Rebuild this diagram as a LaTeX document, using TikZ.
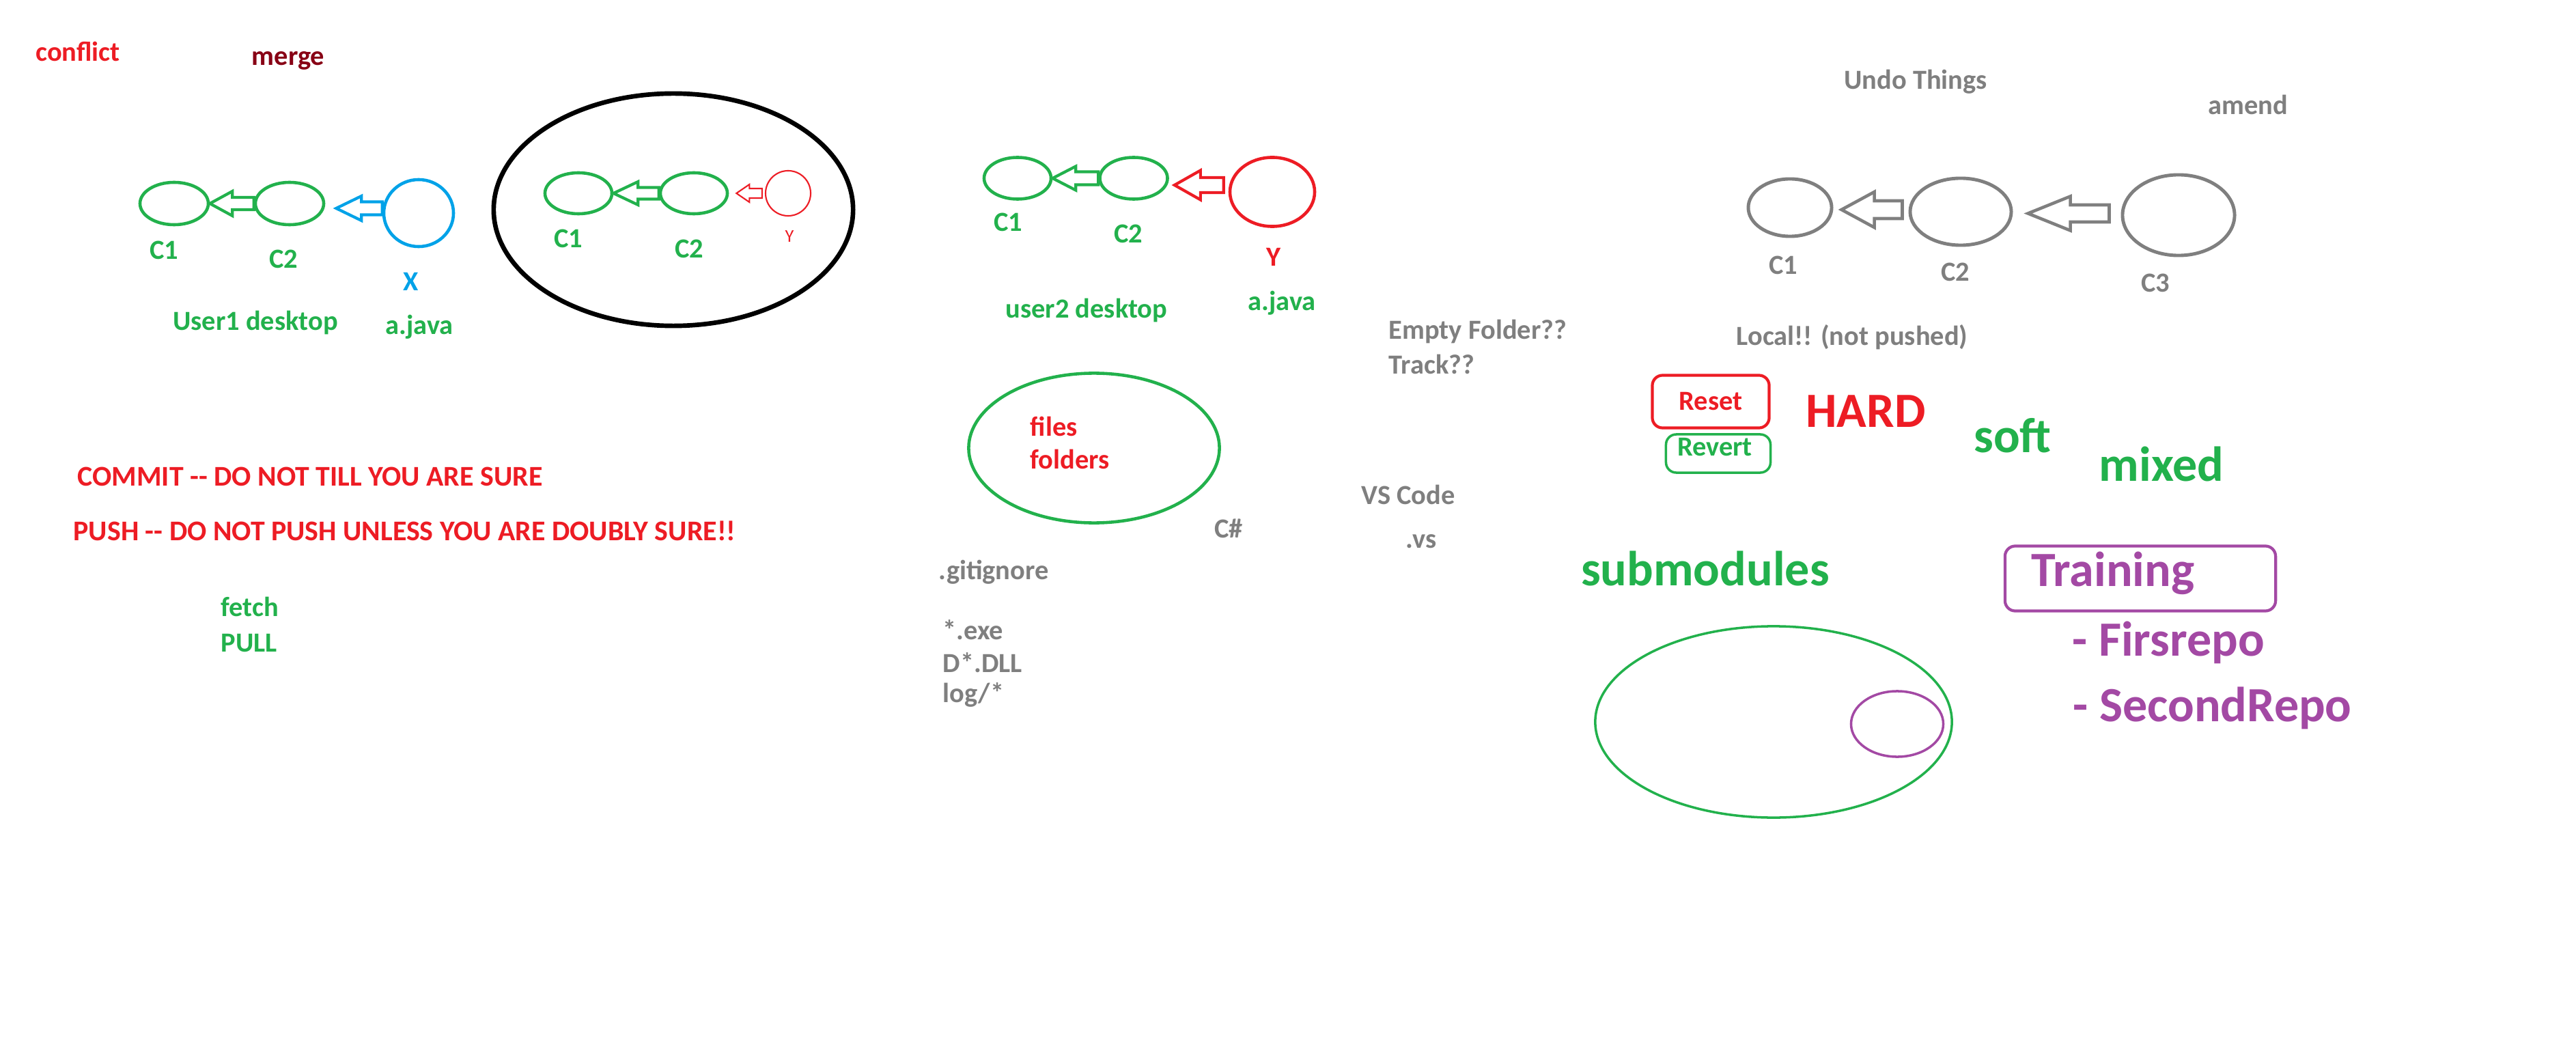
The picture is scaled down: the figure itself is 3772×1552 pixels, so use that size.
\documentclass[tikz,border=0pt]{standalone}
\usepackage{fontspec}
\setmainfont{Carlito}
\usetikzlibrary{calc,positioning,shapes.geometric}

\definecolor{pgreen}{HTML}{22B14C}
\definecolor{pred}{HTML}{ED1C24}
\definecolor{pblue}{HTML}{00A2E8}
\definecolor{pgray}{HTML}{7F7F7F}
\definecolor{ppurple}{HTML}{A349A4}
\definecolor{pmaroon}{HTML}{880015}

\begin{document}
\begin{tikzpicture}[
      x=0.01cm, y=-0.01cm,
      every node/.style = {inner sep=0pt, font=\bfseries\fontsize{11.5}{13}\selectfont},
      commit/.style 2 args = {ellipse, line width=1.3pt, minimum width=#1, minimum height=#2},
      rbox/.style = {draw, rounded corners=0.15cm, line width=1.2pt},
      greentext/.style = {text=pgreen},
      redtext/.style = {text=pred},
      graytext/.style = {text=pgray},
      purpletext/.style = {text=ppurple},
      capstext/.style = {font=\bfseries\fontsize{11.9}{14}\selectfont},
      bigtext/.style = {font=\bfseries\fontsize{20.5}{24}\selectfont},
      hollow/.style n args = {3}{line width=1.2pt, to path={
          let \p1=(\tikztostart), \p2=(\tikztotarget), \n1={(\y1+\y2)/2} in
          (\x1,\n1+#1) -- (\x2+#3,\n1+#1) -- (\x2+#3,\n1+#2) -- (\x2,\n1)
          -- (\x2+#3,\n1-#2) -- (\x2+#3,\n1-#1) -- (\x1,\n1-#1) -- cycle}}
    ]
    \fill[white] (0,0) rectangle (3772,1552);
    \useasboundingbox (0,0) rectangle (3772,1552);

    \node (conflict) [redtext]        at (114,75) {conflict};
    \node (merge)    [text=pmaroon]   at (422,89) {merge};

    % user1 desktop
    \node (u1c1) [commit={1cm}{0.62cm}, draw=pgreen]   at (255,298) {};
    \node (u1c2) [commit={1cm}{0.62cm}, draw=pgreen]   at (424,298) {};
    \node (u1x)  [commit={1.02cm}{0.98cm}, draw=pblue] at (613,312) {};
    \node (u1c1lbl)  [greentext]   at (240,366) {C1};
    \node (u1c2lbl)  [greentext]   at (415,379) {C2};
    \node (u1xlbl)   [text=pblue]  at (602,412) {X};
    \node (u1desk)   [greentext]   at (374,472) {User1 desktop};
    \node (u1file)   [greentext]   at (614,479) {a.java};

    % merged history
    \node (mergearea) [ellipse, draw=black, line width=1.9pt, minimum width=5.26cm, minimum height=3.4cm] at (986,307) {};
    \node (mc1) [commit={0.98cm}{0.6cm}, draw=pgreen]              at (847,283) {};
    \node (mc2) [commit={0.98cm}{0.6cm}, draw=pgreen]              at (1016,283) {};
    \node (my)  [commit={0.66cm}{0.66cm}, draw=pred, line width=0.6pt] at (1154,283) {};
    \node (mc1lbl) [greentext] at (832,349) {C1};
    \node (mc2lbl) [greentext] at (1009,364) {C2};
    \node (mylbl)  [redtext, font=\fontsize{7.5}{8}\selectfont] at (1156,346) {Y};

    % user2 desktop
    \node (u2c1) [commit={0.98cm}{0.61cm}, draw=pgreen] at (1490,261) {};
    \node (u2c2) [commit={0.99cm}{0.61cm}, draw=pgreen] at (1660,261) {};
    \node (u2y)  [commit={1.24cm}{1.01cm}, draw=pred]   at (1863,281) {};
    \node (u2c1lbl) [greentext] at (1476,325) {C1};
    \node (u2c2lbl) [greentext] at (1652,342) {C2};
    \node (u2ylbl)  [redtext]   at (1865,376) {Y};
    \node (u2desk)  [greentext] at (1591,454) {user2 desktop};
    \node (u2file)  [greentext] at (1877,444) {a.java};

    % tracking
    \node (emptyq) [graytext, anchor=west] at (2033,485) {Empty Folder??};
    \node (trackq) [graytext, anchor=west] at (2033,533) {Track??};
    \node (tracked) [ellipse, draw=pgreen, line width=1.3pt, minimum width=3.67cm, minimum height=2.19cm] at (1602,656) {};
    \node (files)   [redtext, anchor=west] at (1508,624) {files};
    \node (folders) [redtext, anchor=west] at (1508,672) {folders};
    \node (csharp)  [graytext] at (1799,774) {C\#};
    \node (vscode)  [graytext] at (2062,724) {VS Code};
    \node (vsdir)   [graytext] at (2081,793) {.vs};
    \node (gitignore) [graytext, anchor=west] at (1374,838)  {.gitignore};
    \node (exe)       [graytext, anchor=west] at (1380,922)  {*.exe};
    \node (dll)       [graytext, anchor=west] at (1380,970)  {D*.DLL};
    \node (logdir)    [graytext, anchor=west] at (1380,1017) {log/*};

    % warnings
    \node (commitnote) [capstext, redtext, anchor=west] at (113,698) {COMMIT -{}- DO NOT TILL YOU ARE SURE};
    \node (pushnote)   [capstext, redtext, anchor=west] at (107,777) {PUSH -{}- DO NOT PUSH UNLESS YOU ARE DOUBLY SURE!!};
    \node (fetch)      [greentext, anchor=west] at (323,888) {fetch};
    \node (pull)       [greentext, anchor=west] at (323,942) {PULL};

    % undo things
    \node (undo)  [graytext] at (2805,120) {Undo Things};
    \node (amend) [graytext] at (3292,153) {amend};
    \node (g1) [commit={1.22cm}{0.84cm}, draw=pgray, line width=1.4pt] at (2621,304) {};
    \node (g2) [commit={1.48cm}{0.98cm}, draw=pgray, line width=1.4pt] at (2871,310) {};
    \node (g3) [commit={1.64cm}{1.18cm}, draw=pgray, line width=1.4pt] at (3190,315) {};
    \node (g1lbl) [graytext] at (2611,388) {C1};
    \node (g2lbl) [graytext] at (2863,398) {C2};
    \node (g3lbl) [graytext] at (3156,414) {C3};
    \node (localnote) [graytext] at (2712,494) {Local!! (not pushed)};

    \node (reset) [rbox, draw=pred, text=pred, minimum width=1.71cm, minimum height=0.77cm] at (2505,588) {Reset};
    \node (revertbox) [rbox, draw=pgreen, line width=1pt, minimum width=1.53cm, minimum height=0.56cm] at (2516,664) {};
    \node (revert) [greentext] at (2511,655) {Revert};
    \node (hard)  [bigtext, redtext]   at (2732,602) {HARD};
    \node (soft)  [bigtext, greentext] at (2947,638) {soft};
    \node (mixed) [bigtext, greentext] at (3165,679) {mixed};

    % submodules
    \node (submodules) [bigtext, greentext] at (2497,832) {submodules};
    \node (superrepo) [ellipse, draw=pgreen, line width=1pt, minimum width=5.22cm, minimum height=2.8cm] at (2597,1057) {};
    \node (subrepo)   [ellipse, draw=ppurple, line width=1pt, minimum width=1.35cm, minimum height=0.96cm] at (2778,1060) {};

    \node (trainingbox) [rbox, draw=ppurple, minimum width=3.96cm, minimum height=0.95cm] at (3134,847) {};
    \node (training)   [bigtext, purpletext, anchor=base west] at (2974,858)  {Training};
    \node (firstrepo)  [bigtext, purpletext, anchor=base west] at (3034,960)  {- Firsrepo};
    \node (secondrepo) [bigtext, purpletext, anchor=base west] at (3035,1056) {- SecondRepo};

    \draw[pgreen, hollow={0.09cm}{0.18cm}{0.33cm}]  (u1c2.west) to (u1c1.east);
    \draw[pblue,  hollow={0.095cm}{0.18cm}{0.37cm}] (u1x.west)  to ([xshift=0.16cm]u1c2.east);
    \draw[pgreen, hollow={0.085cm}{0.17cm}{0.36cm}] (mc2.west)  to (mc1.east);
    \draw[pred,   hollow={0.07cm}{0.13cm}{0.19cm}, line width=0.6pt] ([xshift=-0.04cm]my.west) to ([xshift=0.11cm]mc2.east);
    \draw[pgreen, hollow={0.095cm}{0.175cm}{0.34cm}] (u2c2.west) to (u2c1.east);
    \draw[pred,   hollow={0.11cm}{0.215cm}{0.38cm}]  ([xshift=-0.07cm]u2y.west) to ([xshift=0.08cm]u2c2.east);
    \draw[pgray,  hollow={0.13cm}{0.26cm}{0.48cm}, line width=1.3pt]  ([xshift=-0.09cm]g2.west) to ([xshift=0.12cm]g1.east);
    \draw[pgray,  hollow={0.125cm}{0.25cm}{0.62cm}, line width=1.3pt] ([xshift=-0.17cm]g3.west) to ([xshift=0.22cm]g2.east);

  \end{tikzpicture}
\end{document}
